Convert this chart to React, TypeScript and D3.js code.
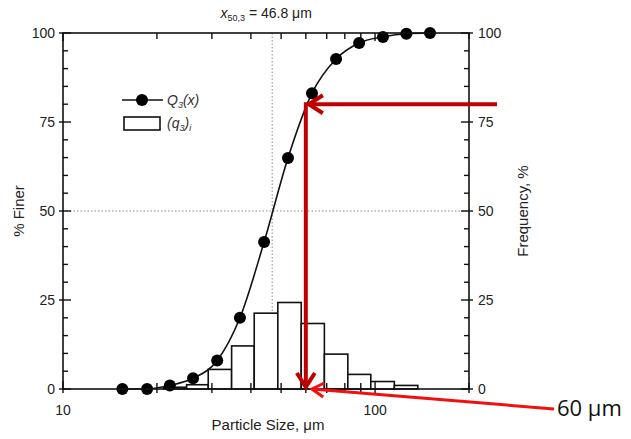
import React from 'react';
import * as d3 from 'd3';

// ---- data ----
const sizes = [15.5, 18.6, 22, 26.1, 31.2, 36.9, 44.1, 52.6, 62.8, 75, 88.9, 106, 126, 150];
const cumulative = [0, 0, 1, 3, 8, 20, 41.3, 64.9, 83.1, 92.7, 97.2, 98.9, 99.8, 100];
const binEdges = [21.0, 24.9, 29.2, 34.7, 41.0, 48.8, 58.0, 68.8, 81.8, 96.9, 115.3, 137.1];
const frequency = [0.5, 1.2, 5.5, 12.1, 21.3, 24.3, 18.4, 9.8, 4.1, 2.1, 1.0];
const yMajorTicks = [0, 25, 50, 75, 100];
const yMinorTicks = [5, 10, 15, 20, 30, 35, 40, 45, 55, 60, 65, 70, 80, 85, 90, 95];
const xMajorTicks = [10, 100];
const xMinorTicks = [20, 30, 40, 50, 60, 70, 80, 90, 200];
const medianSize = 46.8;
const cutSize = 60;
const cutPercent = 80;

const W = 631;
const H = 439;
const FONT = '"Liberation Sans", Arial, sans-serif';

export default function App() {
  const x = d3.scaleLog().domain([10, 200]).range([63, 469]);
  const y = d3.scaleLinear().domain([0, 100]).range([389, 33]);
  const [x0, x1] = x.range();
  const [yb, yt] = y.range();

  const pts: [number, number][] = sizes.map((s, i) => [x(s), y(cumulative[i])]);
  const line = d3.line().curve(d3.curveMonotoneX)(pts) || '';

  const dark = '#c00000';
  const bright = '#f01010';

  const chevron = (tx: number, ty: number, ang: number, len: number, half: number) => {
    // ang: direction the arrow points to (radians)
    const bx = tx - Math.cos(ang) * len;
    const by = ty - Math.sin(ang) * len;
    const px = -Math.sin(ang) * half;
    const py = Math.cos(ang) * half;
    return `M${bx + px},${by + py}L${tx},${ty}L${bx - px},${by - py}`;
  };

  const cx = x(cutSize);
  const cy = y(cutPercent);
  const hStart = x(200) + 28;
  const diagTail: [number, number] = [x(200) + 85, y(0) + 20];
  const diagTip: [number, number] = [cx + 6, y(0)];
  const diagAng = Math.atan2(diagTip[1] - diagTail[1], diagTip[0] - diagTail[0]);

  return (
    <svg width={W} height={H} style={{ position: 'absolute', left: 0, top: 0, background: '#fff' }}
      fontFamily={FONT}>
      <rect x={0} y={0} width={W} height={H} fill="#fff" />
      {/* dotted reference lines */}
      <line x1={x(medianSize)} x2={x(medianSize)} y1={yt} y2={yb} stroke="#888" strokeWidth={1} strokeDasharray="1.5,2" />
      <line x1={x0} x2={x1} y1={y(50)} y2={y(50)} stroke="#888" strokeWidth={1} strokeDasharray="1.5,2" />

      {/* histogram */}
      {frequency.map((f, i) => (
        <rect key={'b' + i} x={x(binEdges[i])} width={x(binEdges[i + 1]) - x(binEdges[i])}
          y={y(f)} height={yb - y(f)} fill="#fff" stroke="#111" strokeWidth={1.6} />
      ))}

      {/* cumulative curve */}
      <path d={line} fill="none" stroke="#111" strokeWidth={1.6} />
      {pts.map((p, i) => (
        <circle key={'p' + i} cx={p[0]} cy={p[1]} r={6} fill="#000" />
      ))}

      {/* frame */}
      <rect x={x0} y={yt} width={x1 - x0} height={yb - yt} fill="none" stroke="#111" strokeWidth={1.6} />

      {/* x ticks */}
      {xMajorTicks.concat(xMinorTicks).map((t, i) => {
        const major = xMajorTicks.includes(t);
        const xx = x(t);
        return (
          <g key={'xt' + i} stroke="#111" strokeWidth={1.4}>
            <line x1={xx} x2={xx} y1={yb - (major ? 8 : 6)} y2={yb + 4} />
            <line x1={xx} x2={xx} y1={yt} y2={yt + (major ? 8 : 6)} />
          </g>
        );
      })}
      {xMajorTicks.map((t) => (
        <text key={'xl' + t} x={x(t)} y={yb + 26} textAnchor="middle" fontSize={14} fill="#222">{t}</text>
      ))}

      {/* y ticks */}
      {yMinorTicks.map((t) => (
        <g key={'ym' + t} stroke="#111" strokeWidth={1.4}>
          <line x1={x0} x2={x0 + 5} y1={y(t)} y2={y(t)} />
          <line x1={x1 - 5} x2={x1} y1={y(t)} y2={y(t)} />
        </g>
      ))}
      {yMajorTicks.map((t) => (
        <g key={'yM' + t}>
          <line x1={x0 - 4} x2={x0 + 8} y1={y(t)} y2={y(t)} stroke="#111" strokeWidth={1.4} />
          <line x1={x1 - 8} x2={x1 + 4} y1={y(t)} y2={y(t)} stroke="#111" strokeWidth={1.4} />
          <text x={x0 - 8} y={y(t) + 5} textAnchor="end" fontSize={14} fill="#222">{t}</text>
          <text x={x1 + 9} y={y(t) + 5} textAnchor="start" fontSize={14} fill="#222">{t}</text>
        </g>
      ))}

      {/* axis titles */}
      <text x={268} y={430} textAnchor="middle" fontSize={15} fill="#222">Particle Size, μm</text>
      <text transform={`translate(24,${y(50)}) rotate(-90)`} textAnchor="middle" fontSize={15} fill="#222">% Finer</text>
      <text transform={`translate(528,${y(50)}) rotate(-90)`} textAnchor="middle" fontSize={15} fill="#222">Frequency, %</text>

      {/* title */}
      <text x={x(medianSize) - 6} y={18} textAnchor="middle" fontSize={14} fill="#222">
        <tspan fontStyle="italic">x</tspan>
        <tspan fontSize={9} dy={3}>50,3</tspan>
        <tspan dy={-3}> = 46.8 μm</tspan>
      </text>

      {/* legend */}
      <line x1={122} x2={163} y1={100} y2={100} stroke="#111" strokeWidth={1.6} />
      <circle cx={142} cy={100} r={6} fill="#000" />
      <text x={167} y={105} fontSize={14} fill="#333" fontStyle="italic">
        Q<tspan fontSize={9} dy={3}>3</tspan><tspan dy={-3}>(x)</tspan>
      </text>
      <rect x={124} y={117} width={36} height={13} fill="#fff" stroke="#111" strokeWidth={1.6} />
      <text x={167} y={128} fontSize={14} fill="#333" fontStyle="italic">
        (q<tspan fontSize={9} dy={3}>3</tspan><tspan dy={-3}>)</tspan><tspan fontSize={9} dy={3}>i</tspan>
      </text>

      {/* red annotation arrows */}
      <g stroke={dark} strokeWidth={4} fill="none" strokeLinecap="butt">
        <line x1={hStart} x2={cx + 3} y1={cy} y2={cy} />
        <path d={chevron(cx + 3, cy, Math.PI, 14, 9)} />
        <line x1={cx} x2={cx} y1={cy - 2} y2={yb - 2} />
        <path d={chevron(cx, yb - 2, Math.PI / 2, 14, 9)} />
      </g>
      <g stroke={bright} strokeWidth={3} fill="none">
        <line x1={diagTail[0]} y1={diagTail[1]} x2={diagTip[0]} y2={diagTip[1]} />
        <path d={chevron(diagTip[0], diagTip[1], diagAng, 12, 7)} />
      </g>
      <text x={557} y={416} fontSize={22} fontFamily='"Open Sans", "DejaVu Sans", sans-serif' fill="#111">60 μm</text>
    </svg>
  );
}
